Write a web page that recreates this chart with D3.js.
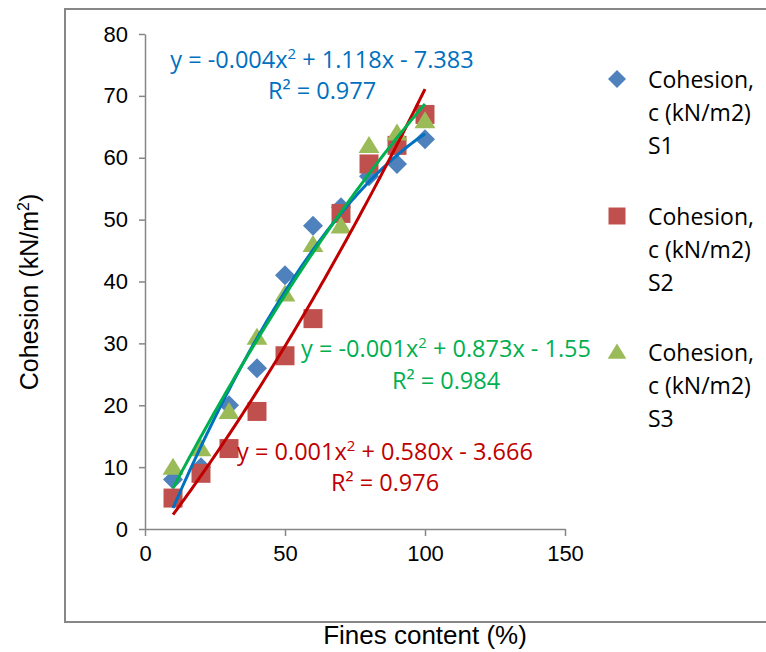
<!DOCTYPE html>
<html>
<head>
<meta charset="utf-8">
<script src="https://cdn.jsdelivr.net/npm/d3@7"></script>
<style>
  body { margin: 0; background: #fff; }
  svg { display: block; }
  .tick text { font-family: "Liberation Sans", Arial, sans-serif; font-size: 22px; fill: #000; }
  .axis path, .axis line { stroke: #868686; stroke-width: 1.5; }
</style>
</head>
<body>
<svg id="chart" width="766" height="652"></svg>
<script>
// fines content (%)
const fines = [10, 20, 30, 40, 50, 60, 70, 80, 90, 100];
// cohesion values (kN/m2) per sample
const cohesionS1 = [8, 10, 20, 26, 41, 49, 52, 57, 59, 63];
const cohesionS2 = [5, 9, 13, 19, 28, 34, 51, 59, 62, 67];
const cohesionS3 = [10, 13, 19, 31, 38, 46, 49, 62, 64, 66];
const seriesNames = ["Cohesion, c (kN/m2) S1", "Cohesion, c (kN/m2) S2", "Cohesion, c (kN/m2) S3"];
const xTicks = [0, 50, 100, 150];
const yTicks = [0, 10, 20, 30, 40, 50, 60, 70, 80];
const eqLabels = [
  ["y = -0.004x", " + 1.118x - 7.383", "0.977"],
  ["y = 0.001x", " + 0.580x - 3.666", "0.976"],
  ["y = -0.001x", " + 0.873x - 1.55", "0.984"]
];

const svg = d3.select("#chart");
const x = d3.scaleLinear().domain([0, 150]).range([145, 565]);
const y = d3.scaleLinear().domain([0, 80]).range([529, 34]);

// outer chart frame
svg.append("rect")
  .attr("x", 65).attr("y", 9).attr("width", 720).attr("height", 613)
  .attr("fill", "none").attr("stroke", "#878787").attr("stroke-width", 2);

svg.append("g").attr("class", "axis")
  .attr("transform", "translate(145,0)")
  .call(d3.axisLeft(y).tickValues(yTicks).tickSize(6).tickPadding(11).tickSizeOuter(0));
svg.append("g").attr("class", "axis")
  .attr("transform", "translate(0,529)")
  .call(d3.axisBottom(x).tickValues(xTicks).tickSize(7).tickPadding(9).tickSizeOuter(0));

svg.append("text")
  .attr("x", 425).attr("y", 644)
  .attr("text-anchor", "middle")
  .style("font-family", "Liberation Sans, Arial, sans-serif").style("font-size", "26px")
  .text("Fines content (%)");

const yt = svg.append("text")
  .attr("transform", "translate(38,292) rotate(-90)")
  .attr("text-anchor", "middle")
  .style("font-family", "Liberation Sans, Arial, sans-serif").style("font-size", "25px");
yt.append("tspan").text("Cohesion (kN/m");
yt.append("tspan").attr("dy", -9).style("font-size", "16px").text("2");
yt.append("tspan").attr("dy", 9).text(")");

const series = [
  { values: cohesionS1, fill: "#4F81BD", line: "#0070C0", shape: "diamond" },
  { values: cohesionS2, fill: "#C0504D", line: "#C00000", shape: "square" },
  { values: cohesionS3, fill: "#9BBB59", line: "#00B050", shape: "triangle" }
];

function markerPath(shape, r) {
  if (shape === "diamond") return `M0,${-r}L${r},0L0,${r}L${-r},0Z`;
  if (shape === "square") return `M${-r},${-r}H${r}V${r}H${-r}Z`;
  return `M0,${-r}L${r * 1.1},${r * 0.8}L${-r * 1.1},${r * 0.8}Z`;
}

series.forEach(s => {
  svg.append("g").selectAll("path")
    .data(fines.map((f, i) => [f, s.values[i]]))
    .join("path")
    .attr("transform", d => `translate(${x(d[0])},${y(d[1])})`)
    .attr("d", markerPath(s.shape, s.shape === "diamond" ? 10 : 9.5))
    .attr("fill", s.fill);
});

// second order polynomial least squares fit
function polyFit(xs, ys) {
  const n = xs.length;
  let sx = 0, sx2 = 0, sx3 = 0, sx4 = 0, sy = 0, sxy = 0, sx2y = 0;
  xs.forEach((v, i) => {
    sx += v; sx2 += v * v; sx3 += v ** 3; sx4 += v ** 4;
    sy += ys[i]; sxy += v * ys[i]; sx2y += v * v * ys[i];
  });
  const m = [[n, sx, sx2, sy], [sx, sx2, sx3, sxy], [sx2, sx3, sx4, sx2y]];
  for (let c = 0; c < 3; c++) {
    for (let r = c + 1; r < 3; r++) {
      const f = m[r][c] / m[c][c];
      for (let k = c; k < 4; k++) m[r][k] -= f * m[c][k];
    }
  }
  const b = [0, 0, 0];
  for (let r = 2; r >= 0; r--) {
    let acc = m[r][3];
    for (let k = r + 1; k < 3; k++) acc -= m[r][k] * b[k];
    b[r] = acc / m[r][r];
  }
  return t => b[0] + b[1] * t + b[2] * t * t;
}

const line = d3.line().x(d => x(d[0])).y(d => y(d[1]));
series.forEach(s => {
  const fit = polyFit(fines, s.values);
  const pts = d3.range(10, 100.01, 1).map(t => [t, fit(t)]);
  svg.append("path")
    .datum(pts)
    .attr("d", line)
    .attr("fill", "none")
    .attr("stroke", s.line)
    .attr("stroke-width", 3);
});

// trendline equations
const eqPos = [[322, 68, 99], [385, 460, 491], [446, 357, 389]];
eqLabels.forEach((e, i) => {
  const g = svg.append("g")
    .style("font-family", "Open Sans, sans-serif").style("font-size", "23.5px")
    .attr("fill", series[i].line).attr("text-anchor", "middle");
  const t1 = g.append("text").attr("x", eqPos[i][0]).attr("y", eqPos[i][1]);
  t1.append("tspan").text(e[0]);
  t1.append("tspan").attr("dy", -9).style("font-size", "15px").text("2");
  t1.append("tspan").attr("dy", 9).text(e[1]);
  const t2 = g.append("text").attr("x", eqPos[i][0]).attr("y", eqPos[i][2]);
  t2.append("tspan").text("R² = " + e[2]);
});

// legend
const legendY = [79, 216, 352];
seriesNames.forEach((name, i) => {
  const g = svg.append("g").attr("transform", `translate(617,${legendY[i]})`);
  g.append("path").attr("d", markerPath(series[i].shape, series[i].shape === "diamond" ? 9 : 8.5))
    .attr("fill", series[i].fill);
  const words = [name.slice(0, 9), name.slice(10, 19), name.slice(20)];
  words.forEach((w, j) => {
    g.append("text")
      .attr("x", 31).attr("y", 9 + j * 33)
      .style("font-family", "Open Sans, sans-serif").style("font-size", "23px")
      .text(w);
  });
});
</script>
</body>
</html>
